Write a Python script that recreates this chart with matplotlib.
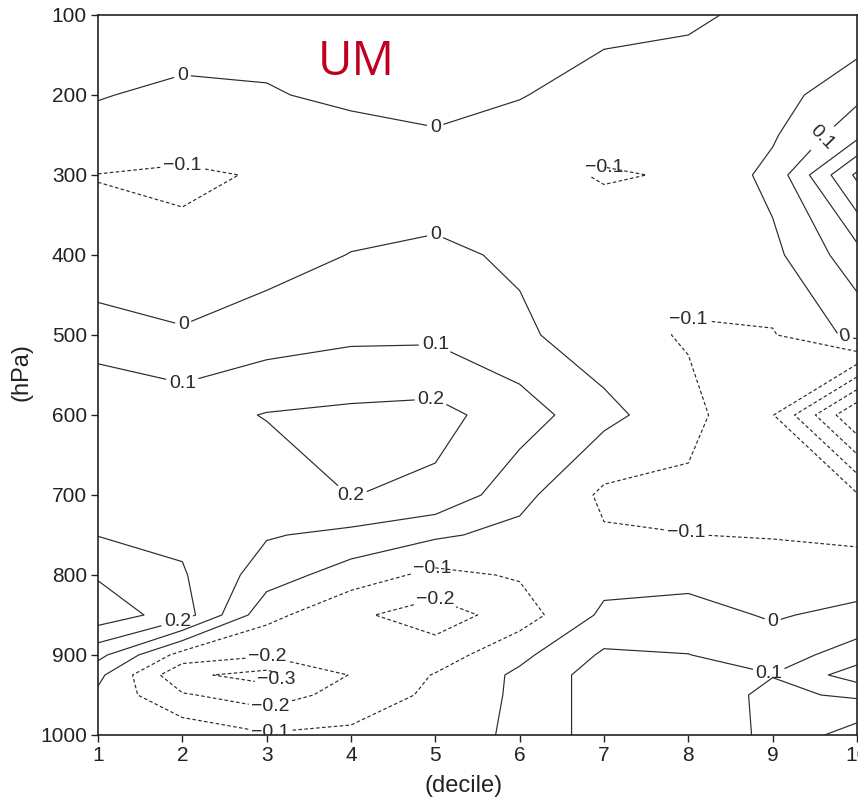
import numpy as np
import matplotlib
matplotlib.use("Agg")
import matplotlib.pyplot as plt

plt.rcParams["font.family"] = ["Liberation Sans", "DejaVu Sans"]

# decile bins along x, pressure levels (hPa) along y
deciles = [1, 2, 3, 4, 5, 6, 7, 8, 9, 10]
plev = [100, 150, 200, 250, 300, 400, 500, 600, 700, 750, 800, 850, 900, 925, 950, 1000]

# anomaly per level, deciles 1..10
p100 = [0.03, 0.04, 0.04, 0.04, 0.04, 0.04, 0.03, 0.03, -0.05, -0.05]
p150 = [0.03, 0.02, 0.03, 0.04, 0.05, 0.04, -0.005, -0.03, -0.06, -0.008]
p200 = [0.005, -0.02, -0.013, 0.033, 0.04, 0.006, -0.05, -0.05, -0.045, 0.075]
p250 = [-0.03, -0.04, -0.05, -0.05, -0.01, -0.044, -0.08, -0.06, -0.013, 0.17]
p300 = [-0.102, -0.12, -0.09, -0.07, -0.06, -0.079, -0.105, -0.095, 0.03, 0.42]
p400 = [-0.08, -0.07, -0.042, 0.003, 0.021, -0.016, -0.063, -0.06, -0.026, 0.16]
p500 = [0.055, 0.01, 0.053, 0.08, 0.082, 0.02, -0.06, -0.11, -0.107, 0.03]
p600 = [0.18, 0.16, 0.205, 0.22, 0.23, 0.15, 0.03, -0.07, -0.195, -0.6]
p700 = [0.185, 0.16, 0.14, 0.202, 0.18, 0.033, -0.12, -0.12, -0.15, -0.19]
p750 = [0.197, 0.18, 0.108, 0.075, 0.015, -0.03, -0.09, -0.099, -0.105, -0.12]
p800 = [0.29, 0.21, 0.05, -0.05, -0.125, -0.09, -0.035, -0.03, -0.055, -0.053]
p850 = [0.36, 0.25, -0.07, -0.18, -0.25, -0.15, 0.02, 0.035, -0.01, 0.027]
p900 = [0.13, -0.14, -0.19, -0.17, -0.15, -0.025, 0.115, 0.102, 0.05, 0.15]
p925 = [0.025, -0.28, -0.335, -0.195, -0.094, 0.02, 0.15, 0.14, 0.103, 0.25]
p950 = [-0.02, -0.19, -0.25, -0.16, -0.08, 0.02, 0.15, 0.15, 0.08, 0.115]
p1000 = [-0.04, -0.03, -0.09, -0.08, -0.05, 0.02, 0.15, 0.16, 0.08, -0.05]

levels = [-0.5, -0.4, -0.3, -0.2, -0.1, 0.0, 0.1, 0.2, 0.3, 0.4]

# where each level gets its inline label (decile, hPa)
label_spots = {
    0.0: [(2.0, 175), (5.0, 241), (5.0, 362), (2.0, 484), (9.85, 505), (9.0, 859)],
    0.1: [(5.0, 512), (2.0, 560), (9.55, 250), (8.95, 926)],
    0.2: [(4.95, 578), (4.0, 702), (1.95, 861)],
    -0.1: [(2.0, 288), (7.0, 288), (7.95, 472), (7.98, 746), (4.97, 794), (3.04, 991)],
    -0.2: [(5.0, 828), (3.02, 898), (3.04, 962)],
    -0.3: [(3.1, 927)],
}
keep_rotated = {(0.1, 2), (0.0, 4)}


def fmt_level(v):
    if abs(v) < 1e-9:
        return "0"
    return "{:.1f}".format(v).replace("-", "\u2212")


field = np.array([p100, p150, p200, p250, p300, p400, p500, p600,
                  p700, p750, p800, p850, p900, p925, p950, p1000])

fig = plt.figure(figsize=(8.58, 8.02), dpi=100)
ax = fig.add_axes([98 / 858, 1 - 735 / 802, 759 / 858, 720 / 802])

# one contour set per level so each label lands on its own level
for lv in levels:
    style = (0, (3, 2)) if lv < 0 else "solid"
    cs = ax.contour(deciles, plev, field, levels=[lv], colors="#2b2b2b",
                    linewidths=0.85, linestyles=[style])
    spots = label_spots.get(lv)
    if not spots:
        continue
    texts = cs.clabel(manual=spots, inline=True, fmt=fmt_level,
                      fontsize=14, inline_spacing=3)
    for i, t in enumerate(texts):
        t.set_color("#2b2b2b")
        if (lv, i) not in keep_rotated:
            t.set_rotation(0)

ax.set_xlim(1, 10)
ax.set_ylim(1000, 100)
ax.set_xticks(deciles)
ax.set_yticks([100, 200, 300, 400, 500, 600, 700, 800, 900, 1000])
ax.tick_params(direction="out", length=5, width=1.0, labelsize=15, pad=3,
               colors="#222222")
for sp in ax.spines.values():
    sp.set_linewidth(1.2)
    sp.set_color("#222222")

fig.text(22 / 858, 1 - 372 / 802, "(hPa)", rotation=90, ha="center",
         va="center", fontsize=17, color="#222222")
fig.text(464 / 858, 1 - 786 / 802, "(decile)", ha="center", va="center",
         fontsize=17, color="#222222")
fig.text(356 / 858, 1 - 62 / 802, "UM", ha="center", va="center",
         fontsize=34, color="#c00020", family=["Open Sans", "DejaVu Sans"])

fig.savefig("out.png", dpi=100)
